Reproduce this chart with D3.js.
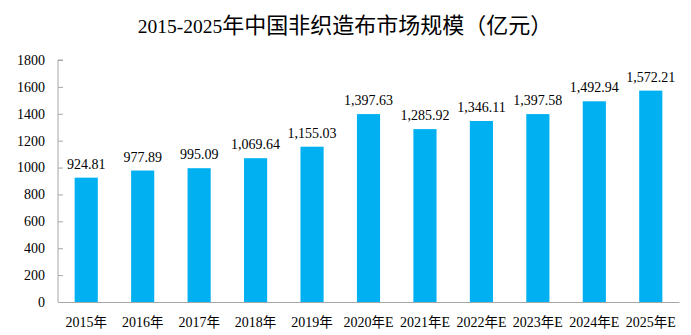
<!DOCTYPE html>
<html>
<head>
<meta charset="utf-8">
<script src="https://cdn.jsdelivr.net/npm/d3@7/dist/d3.min.js"></script>
<style>
  html, body { margin: 0; padding: 0; background: #fff; }
  svg { display: block; }
</style>
</head>
<body>
<svg id="chart" width="691" height="335"></svg>
<script>
// Market size of China's nonwoven fabric industry, 2015–2025 (亿元)
const years = ["2015年", "2016年", "2017年", "2018年", "2019年", "2020年E", "2021年E", "2022年E", "2023年E", "2024年E", "2025年E"];
const values = [924.81, 977.89, 995.09, 1069.64, 1155.03, 1397.63, 1285.92, 1346.11, 1397.58, 1492.94, 1572.21];
const yTicks = [0, 200, 400, 600, 800, 1000, 1200, 1400, 1600, 1800];
const titleNum = "2015-2025";
const titleText = "年中国非织造布市场规模（亿元）";

const serif = "'Liberation Serif', 'Times New Roman', serif";
const cjk = "'Noto Sans CJK SC', sans-serif";
const barColor = "#00B0F0";
const axisColor = "#A6A6A6";

const svg = d3.select("#chart");
const margin = { left: 58, right: 12, top: 60, bottom: 33 };
const W = 691, H = 335;

const x = d3.scaleBand()
  .domain(years)
  .range([margin.left, W - margin.right])
  .paddingInner(0.59)
  .paddingOuter(0.295);

const y = d3.scaleLinear()
  .domain([0, 1800])
  .range([H - margin.bottom, margin.top]);

// Title: numerals in a serif face, Chinese in a sans face
const title = svg.append("text")
  .attr("x", 345)
  .attr("y", 33)
  .attr("text-anchor", "middle")
  .attr("fill", "#000");
title.append("tspan").attr("font-family", serif).attr("font-size", 19.5).text(titleNum);
title.append("tspan").attr("font-family", cjk).attr("font-size", 22).text(titleText);

// Y axis with ticks pointing inward
const yAxis = svg.append("g")
  .attr("transform", `translate(${margin.left},0)`)
  .call(d3.axisRight(y).tickValues(yTicks).tickSize(5).tickFormat(""));
yAxis.select(".domain").attr("stroke", axisColor).attr("d", `M5,${y(1800)}H0V${y(0)}`);
yAxis.selectAll(".tick line").attr("stroke", axisColor);

svg.append("g")
  .selectAll("text")
  .data(yTicks)
  .join("text")
  .attr("x", margin.left - 13)
  .attr("y", d => y(d))
  .attr("dy", "0.35em")
  .attr("text-anchor", "end")
  .attr("font-family", serif)
  .attr("font-size", 14)
  .attr("fill", "#000")
  .text(d => d);

// Bars
svg.append("g")
  .selectAll("rect")
  .data(values)
  .join("rect")
  .attr("x", (d, i) => x(years[i]))
  .attr("y", d => y(d))
  .attr("width", x.bandwidth())
  .attr("height", d => y(0) - y(d))
  .attr("fill", barColor);

// X axis baseline
const xAxis = svg.append("g")
  .attr("transform", `translate(0,${y(0)})`)
  .call(d3.axisBottom(x).tickSize(0).tickFormat(""));
xAxis.select(".domain").attr("stroke", axisColor);

// Category labels: year digits serif, 年 sans
const xl = svg.append("g")
  .selectAll("text")
  .data(years)
  .join("text")
  .attr("x", d => x(d) + x.bandwidth() / 2)
  .attr("y", y(0) + 24.5)
  .attr("text-anchor", "middle")
  .attr("fill", "#000")
  .attr("font-size", 14);
xl.append("tspan").attr("font-family", serif).text(d => d.slice(0, 4));
xl.append("tspan").attr("font-family", cjk).attr("font-size", 13.5).text("年");
xl.append("tspan").attr("font-family", serif).text(d => d.slice(5));

// Value labels above bars
const fmt = d3.format(",.2f");
svg.append("g")
  .selectAll("text")
  .data(values)
  .join("text")
  .attr("x", (d, i) => x(years[i]) + x.bandwidth() / 2)
  .attr("y", d => y(d) - 9)
  .attr("text-anchor", "middle")
  .attr("font-family", serif)
  .attr("font-size", 14)
  .attr("fill", "#000")
  .text(d => fmt(d));
</script>
</body>
</html>
